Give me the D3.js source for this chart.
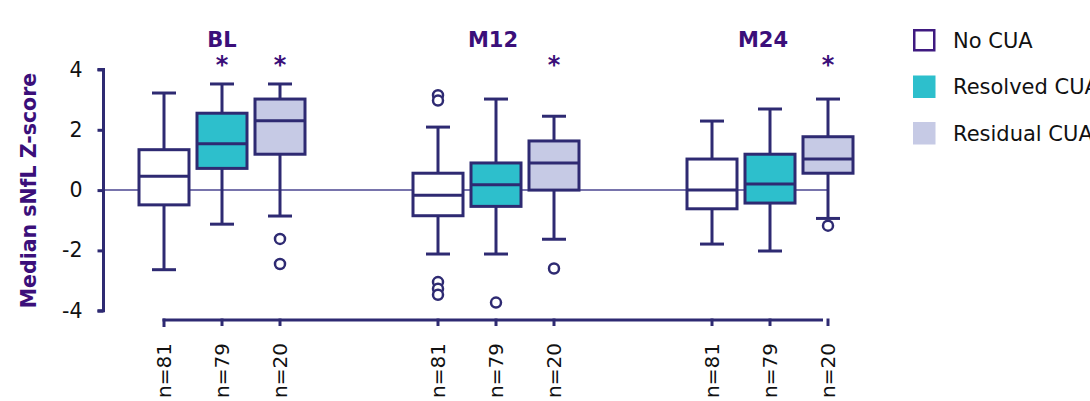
<!DOCTYPE html>
<html><head><meta charset="utf-8">
<script src="https://cdn.jsdelivr.net/npm/d3@7"></script>
<style>
html,body{margin:0;padding:0;background:#fff;}
svg{display:block;font-family:"DejaVu Sans",Verdana,sans-serif;}
</style></head>
<body>
<svg id="chart" width="1090" height="401"></svg>
<script>
const timepoints = ["BL", "M12", "M24"];
const groups = ["No CUA", "Resolved CUA", "Residual CUA"];
const nLabels = ["n=81", "n=79", "n=20"];
const yTicks = [-4, -2, 0, 2, 4];
// [whiskerLow, q1, median, q3, whiskerHigh] per timepoint, per group
const statsBL  = [[-2.64, -0.49, 0.46, 1.34, 3.22], [-1.13, 0.72, 1.54, 2.55, 3.52], [-0.86, 1.19, 2.30, 3.02, 3.52]];
const statsM12 = [[-2.12, -0.85, -0.17, 0.56, 2.09], [-2.12, -0.54, 0.18, 0.90, 3.02], [-1.63, 0.0, 0.90, 1.63, 2.45]];
const statsM24 = [[-1.79, -0.62, 0.0, 1.03, 2.29], [-2.02, -0.43, 0.20, 1.19, 2.69], [-0.94, 0.56, 1.03, 1.77, 3.02]];
const outliersBL  = [[], [], [-1.62, -2.45]];
const outliersM12 = [[3.15, 2.97, -3.05, -3.27, -3.47], [-3.73], [-2.60]];
const outliersM24 = [[], [], [-1.18]];
const significant = [[false, true, true], [false, false, true], [false, false, true]];

const stats = [statsBL, statsM12, statsM24];
const outliers = [outliersBL, outliersM12, outliersM24];

const fills = ["#ffffff", "#2dbfcc", "#c6cae5"];
const navy = "#2e2a72";
const purple = "#3b0f7a";

const svg = d3.select("#chart");
const y = d3.scaleLinear().domain([-4, 4]).range([310.7, 69.5]);
const xg = d3.scalePoint().domain(timepoints).range([222, 770]);
const xi = d3.scalePoint().domain(groups).range([-58, 58]);
const cx = (t, g) => xg(t) + xi(g);
const boxW = 50, capW = 24;

// zero line
svg.append("line").attr("x1", 103.5).attr("x2", cx("M24", "Residual CUA"))
  .attr("y1", y(0)).attr("y2", y(0)).attr("stroke", "#4b4690").attr("stroke-width", 1.5);

// y axis
const yAxis = d3.axisLeft(y).tickValues(yTicks).tickSize(6).tickPadding(15).tickFormat(d => String(d));
const ya = svg.append("g").attr("transform", "translate(103.5,0)").call(yAxis);
ya.select(".domain").attr("stroke", navy).attr("stroke-width", 3).attr("d", `M-6,${y(4)}H0V${y(-4)}H-6`);
ya.selectAll(".tick line").attr("stroke", navy).attr("stroke-width", 3);
ya.selectAll(".tick text").attr("fill", "#111").attr("font-size", 20.5).attr("font-family", "DejaVu Sans, Verdana, sans-serif");

// y title
svg.append("text").attr("transform", `translate(36,${(y(4)+y(-4))/2 + 0.5}) rotate(-90)`)
  .attr("text-anchor", "middle").attr("font-size", 20.5).attr("font-weight", "bold")
  .attr("fill", purple)
  .text("Median sNfL Z-score");

// x axis
const xAxisY = 320;
const allX = [];
timepoints.forEach(t => groups.forEach(g => allX.push(cx(t, g))));
svg.append("line").attr("x1", d3.min(allX) - 1.5).attr("x2", d3.max(allX) - 5)
  .attr("y1", xAxisY).attr("y2", xAxisY).attr("stroke", navy).attr("stroke-width", 3);
svg.selectAll(".xtick").data(allX).join("line")
  .attr("x1", d => d).attr("x2", d => d).attr("y1", xAxisY - 1.5).attr("y2", (d, i) => i === 0 ? xAxisY + 7 : xAxisY + 6)
  .attr("stroke", navy).attr("stroke-width", 3);

// n labels
timepoints.forEach(t => groups.forEach((g, gi) => {
  svg.append("text").attr("transform", `translate(${cx(t, g) + 7},343) rotate(-90)`)
    .attr("text-anchor", "end").attr("font-size", 20).attr("fill", "#111").text(nLabels[gi]);
}));

// boxes
timepoints.forEach((t, ti) => groups.forEach((g, gi) => {
  const s = stats[ti][gi];
  const x = cx(t, g);
  const gEl = svg.append("g");
  gEl.append("line").attr("x1", x).attr("x2", x).attr("y1", y(s[0])).attr("y2", y(s[4]))
    .attr("stroke", navy).attr("stroke-width", 3);
  gEl.append("line").attr("x1", x - capW/2).attr("x2", x + capW/2).attr("y1", y(s[0])).attr("y2", y(s[0]))
    .attr("stroke", navy).attr("stroke-width", 3);
  gEl.append("line").attr("x1", x - capW/2).attr("x2", x + capW/2).attr("y1", y(s[4])).attr("y2", y(s[4]))
    .attr("stroke", navy).attr("stroke-width", 3);
  gEl.append("rect").attr("x", x - boxW/2).attr("width", boxW)
    .attr("y", y(s[3])).attr("height", y(s[1]) - y(s[3]))
    .attr("fill", fills[gi]).attr("stroke", navy).attr("stroke-width", 3);
  gEl.append("line").attr("x1", x - boxW/2).attr("x2", x + boxW/2).attr("y1", y(s[2])).attr("y2", y(s[2]))
    .attr("stroke", navy).attr("stroke-width", 3);
  gEl.selectAll("circle").data(outliers[ti][gi]).join("circle")
    .attr("cx", x).attr("cy", d => y(d)).attr("r", 5)
    .attr("fill", "#fff").attr("stroke", navy).attr("stroke-width", 2.5);
  if (significant[ti][gi]) {
    svg.append("text").attr("x", x).attr("y", 73).attr("text-anchor", "middle")
      .attr("font-size", 24).attr("font-weight", "bold").attr("fill", purple).text("*");
  }
}));

// timepoint labels
svg.selectAll(".tp").data(timepoints).join("text")
  .attr("x", d => xg(d) - (d === "M24" ? 7 : (d === "M12" ? 3 : 0))).attr("y", 46.5)
  .attr("text-anchor", "middle").attr("font-size", 21).attr("font-weight", "bold")
  .attr("fill", purple).text(d => d);

// legend
const leg = svg.append("g").attr("transform", "translate(913,29)");
groups.forEach((g, i) => {
  const gy = i * 46.5;
  if (i === 0) {
    leg.append("rect").attr("x", 1.25).attr("y", gy + 1.25).attr("width", 20).attr("height", 20)
      .attr("fill", fills[i]).attr("stroke", "#3f1a80").attr("stroke-width", 2.5);
  } else {
    leg.append("rect").attr("x", 0).attr("y", gy).attr("width", 22.5).attr("height", 22.5)
      .attr("fill", fills[i]);
  }
  leg.append("text").attr("x", 40).attr("y", gy + 18.7).attr("font-size", 21).attr("fill", "#111").text(g);
});
</script>
</body></html>
